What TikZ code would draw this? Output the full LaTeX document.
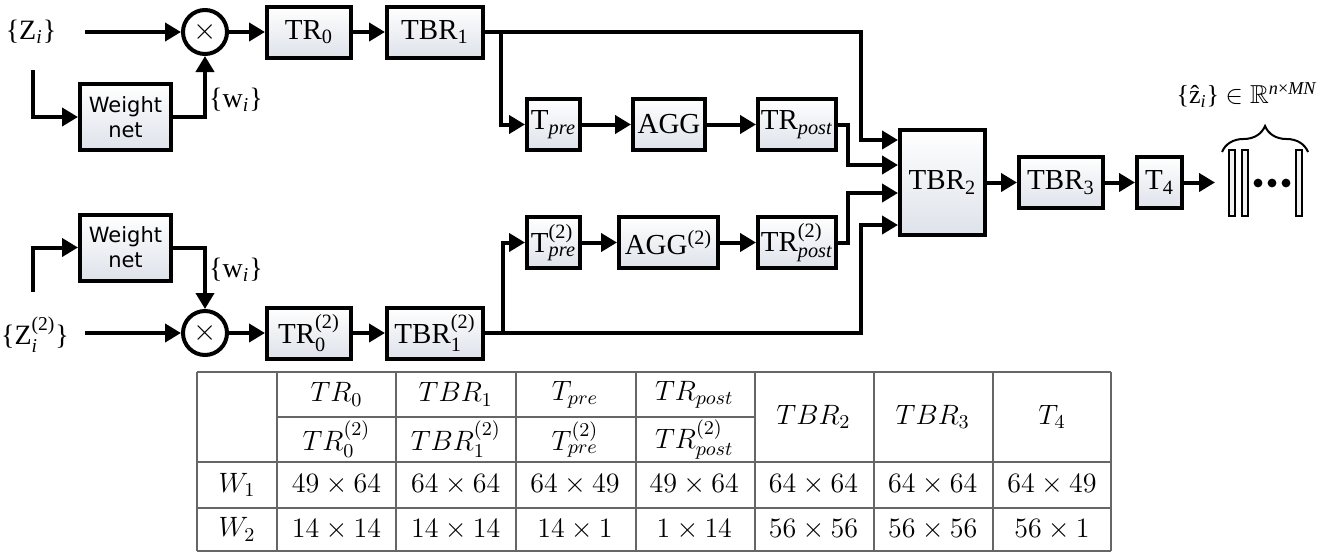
\RequirePackage{fix-cm}
\documentclass[tikz,border=0pt]{standalone}
\usepackage{amsmath}
\usepackage{amssymb}
\usepackage[no-math]{fontspec}
\setmainfont{Liberation Serif}
\newfontfamily\wnfont{DejaVu Sans}
\usetikzlibrary{arrows.meta,calc,decorations.pathreplacing}
\definecolor{blkshade}{RGB}{222,226,234}

\newcommand{\lsub}[1]{$_{\text{#1}}$}
\newcommand{\lsubsup}[2]{$^{\text{#2}}_{\text{#1}}$}

\begin{document}
\begin{tikzpicture}[x=0.5pt,y=-0.5pt,
    arr/.style={line width=2pt,-{Triangle[length=8pt,width=9pt]}},
    blk/.style={draw,line width=2pt,top color=white,bottom color=blkshade,inner sep=0pt,
        font=\fontsize{14.5}{16}\selectfont,minimum height=25.5pt},
    wnet/.style={blk,font=\wnfont\fontsize{10.5}{12.5}\selectfont,align=center,
        minimum width=45.5pt,minimum height=33pt},
    mul/.style={draw,circle,line width=2pt,minimum size=22pt,inner sep=0pt,fill=white},
    lbl/.style={font=\fontsize{14}{16}\selectfont},
    bar/.style={draw,line width=1pt,fill=black!5,minimum width=3pt,minimum height=33pt,inner sep=0pt},
    grid/.style={draw=black!60,line width=0.8pt},
    cell/.style={font=\fontsize{14}{16}\selectfont}]
    \useasboundingbox (0,0) rectangle (1332,552);

    % upper branch
    \node[lbl] (zi) at (31,32) {\{Z\lsub{\textit{i}}\}};
    \coordinate (zin) at (85,32);
    \node[mul] (mul1) at (205,32) {\fontsize{15}{15}\selectfont$\times$};
    \node[blk,minimum width=42pt] (tr0) at (309,32) {TR\lsub{0}};
    \node[blk,minimum width=48pt] (tbr1) at (435,32) {TBR\lsub{1}};
    \node[wnet] (wn1) at (125.5,117) {Weight\\net};
    \node[lbl] (w1) at (236,100) {\{w\lsub{\textit{i}}\}};
    \coordinate (ws1) at (33,70);

    % lower branch
    \node[lbl] (zi2) at (35,335) {\{Z\lsubsup{\textit{i}}{(2)}\}};
    \coordinate (zin2) at (85,333);
    \node[mul] (mul2) at (205,333) {\fontsize{15}{15}\selectfont$\times$};
    \node[blk,minimum width=42pt] (tr0b) at (309,333) {TR\lsubsup{0}{(2)}};
    \node[blk,minimum width=48pt] (tbr1b) at (435,333) {TBR\lsubsup{1}{(2)}};
    \node[wnet] (wn2) at (125.5,247.5) {Weight\\net};
    \node[lbl] (w2) at (236,270) {\{w\lsub{\textit{i}}\}};
    \coordinate (ws2) at (33,292);

    % middle blocks
    \node[blk,minimum width=26.5pt] (tpre) at (553.5,124.5) {T\lsub{\textit{pre}}};
    \node[blk,minimum width=36pt] (agg) at (669,124.5) {AGG};
    \node[blk,minimum width=39pt] (trpost) at (797,124.5) {TR\lsub{\textit{post}}};
    \node[blk,minimum width=26.5pt] (tpre2) at (553.5,242.5) {T\lsubsup{\textit{pre}}{(2)}};
    \node[blk,minimum width=49.5pt] (agg2) at (668.5,242.5) {AGG$^{\text{(2)}}$};
    \node[blk,minimum width=39pt] (trpost2) at (797,242.5) {TR\lsubsup{\textit{post}}{(2)}};

    % output side
    \node[blk,minimum width=42.5pt,minimum height=52.5pt] (tbr2) at (942.5,182.5) {TBR\lsub{2}};
    \node[blk,minimum width=42pt] (tbr3) at (1061,182.5) {TBR\lsub{3}};
    \node[blk,minimum width=22.5pt] (t4) at (1159.5,182.5) {T\lsub{4}};
    \coordinate (zout) at (1215,182.5);
    \foreach \x/\n in {1231.5/b1,1244.5/b2,1298.5/b3}
        \node[bar] (\n) at (\x,182.5) {};
    \foreach \x in {1258,1272,1286}
        \fill (\x,183) circle (2.2pt);
    \draw[decorate,decoration={brace,amplitude=13pt},line width=1pt] (1222,152) -- (1308,152);
    \node[lbl,font=\fontsize{13}{15}\selectfont] (zhat) at (1247,95)
        {\{\^{z}\lsub{\textit{i}}\} $\in\mathbb{R}$$^{\text{\textit{n}\texttimes\textit{MN}}}$};

    \coordinate (in1) at ($(tbr2.west)+(0,-42.5)$);
    \coordinate (in2) at ($(tbr2.west)+(0,-17.5)$);
    \coordinate (in3) at ($(tbr2.west)+(0,10.5)$);
    \coordinate (in4) at ($(tbr2.west)+(0,42.5)$);

    % connectors
    \draw[arr] (zin) -- (mul1);
    \draw[arr] (mul1) -- (tr0);
    \draw[arr] (tr0) -- (tbr1);
    \draw[arr] (ws1) |- (wn1);
    \draw[arr] (wn1) -| (mul1);
    \draw[arr] (tbr1) -| ($(in1)+(-37,0)$) -- (in1);
    \draw[arr] ($(tbr1.east)+(16,0)$) |- (tpre);
    \draw[arr] (tpre) -- (agg);
    \draw[arr] (agg) -- (trpost);
    \draw[arr] (trpost) -| ($(in2)+(-50,0)$) -- (in2);

    \draw[arr] (zin2) -- (mul2);
    \draw[arr] (mul2) -- (tr0b);
    \draw[arr] (tr0b) -- (tbr1b);
    \draw[arr] (ws2) |- (wn2);
    \draw[arr] (wn2) -| (mul2);
    \draw[arr] (tbr1b) -| ($(in4)+(-37,0)$) -- (in4);
    \draw[arr] ($(tbr1b.east)+(18,0)$) |- (tpre2);
    \draw[arr] (tpre2) -- (agg2);
    \draw[arr] (agg2) -- (trpost2);
    \draw[arr] (trpost2) -| ($(in3)+(-50,0)$) -- (in3);

    \draw[arr] (tbr2) -- (tbr3);
    \draw[arr] (tbr3) -- (t4);
    \draw[arr] (t4) -- (zout);

    % table of sizes
    \foreach \y in {372,462,508,551}
        \draw[grid] (197,\y) -- (1111,\y);
    \draw[grid] (277,417) -- (755,417);
    \foreach \x in {197,277,396,516,636,755,874,993,1111}
        \draw[grid] (\x,372) -- (\x,551);
    \foreach \lab [count=\i] in {TR_0,TBR_1,T_{pre},TR_{post}}
        \node[cell] (ha\i) at ({217.25+119.25*\i},394.5) {$\lab$};
    \foreach \lab [count=\i] in {TR_0^{(2)},TBR_1^{(2)},T_{pre}^{(2)},TR_{post}^{(2)}}
        \node[cell] (hb\i) at ({217.25+119.25*\i},439.5) {$\lab$};
    \foreach \lab [count=\i from 5] in {TBR_2,TBR_3,T_4}
        \node[cell] (ha\i) at ({217.25+119.25*\i},417) {$\lab$};
    \node[cell] (wa) at (237,485) {$W_1$};
    \node[cell] (wb) at (237,529.5) {$W_2$};
    \foreach \a/\b [count=\i] in {49/64,64/64,64/49,49/64,64/64,64/64,64/49}
        \node[cell] (ra\i) at ({217.25+119.25*\i},485) {$\a\times\b$};
    \foreach \a/\b [count=\i] in {14/14,14/14,14/1,1/14,56/56,56/56,56/1}
        \node[cell] (rb\i) at ({217.25+119.25*\i},529.5) {$\a\times\b$};
\end{tikzpicture}
\end{document}
